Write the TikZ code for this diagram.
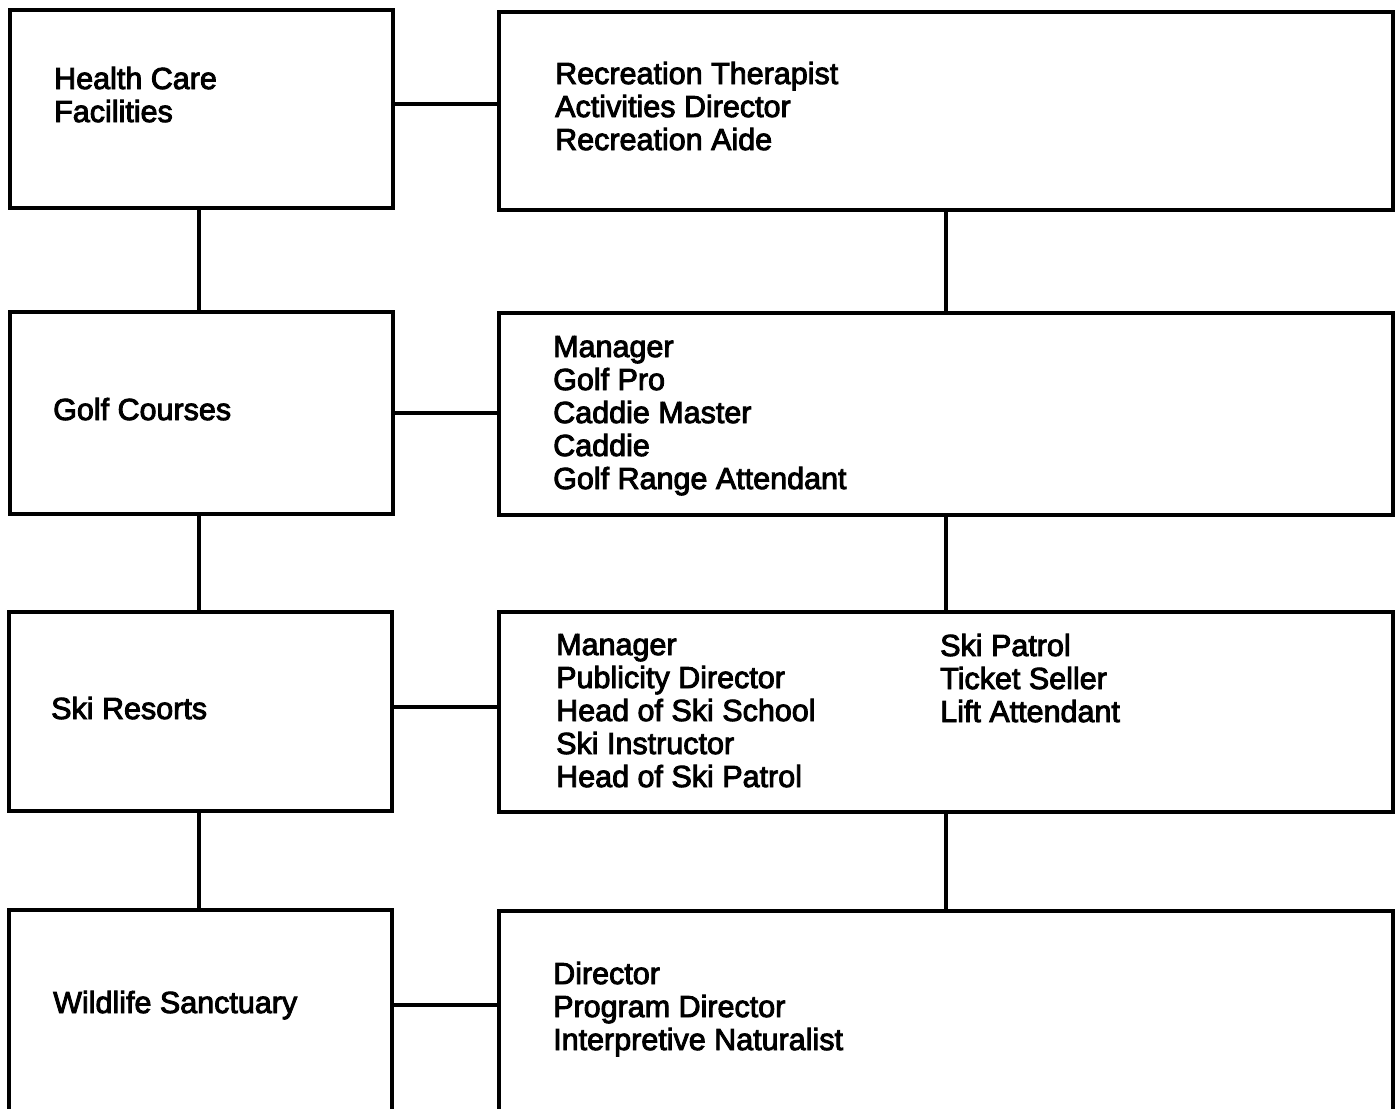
\documentclass[tikz,border=0pt]{standalone}
\usepackage{fontspec}
\newfontfamily\lab{Liberation Sans}[FakeBold=3]
\begin{document}
\begin{tikzpicture}[x=1pt,y=-1pt,
  box/.style={draw=black,line width=4pt,inner sep=0pt,minimum width=#1},
  lbox/.style={box=383pt},
  rbox/.style={box=894pt},
  conn/.style={draw=black,line width=4pt},
  txt/.style={inner sep=0pt,anchor=base west,align=left,
    font=\fontsize{30.5}{33}\lab}]
\clip (0,0) rectangle (1397,1108);
\fill[white] (0,0) rectangle (1397,1108);
% left boxes
\node[lbox,minimum height=198pt] (hc) at (201.5,109) {};
\node[lbox,minimum height=202pt] (gc) at (201.5,413) {};
\node[lbox,minimum height=199pt] (sr) at (200.5,711.5) {};
\node[lbox,minimum height=400pt] (ws) at (200,1110) {};
% right boxes
\node[rbox,minimum height=198pt] (hcj) at (946,111) {};
\node[rbox,minimum height=202pt] (gcj) at (946,414) {};
\node[rbox,minimum height=200pt] (srj) at (946,712) {};
\node[rbox,minimum height=389pt] (wsj) at (946,1105.5) {};
% horizontal connectors
\draw[conn] (hc.east |- 0,104) -- (hcj.west |- 0,104);
\draw[conn] (gc.east |- 0,413) -- (gcj.west |- 0,413);
\draw[conn] (sr.east |- 0,707) -- (srj.west |- 0,707);
\draw[conn] (ws.east |- 0,1005) -- (wsj.west |- 0,1005);
% vertical connectors
\draw[conn] (hc.south -| 199,0) -- (gc.north -| 199,0);
\draw[conn] (gc.south -| 199,0) -- (sr.north -| 199,0);
\draw[conn] (sr.south -| 199,0) -- (ws.north -| 199,0);
\draw[conn] (hcj.south) -- (gcj.north);
\draw[conn] (gcj.south) -- (srj.north);
\draw[conn] (srj.south) -- (wsj.north);
% texts (anchor = baseline of the last line)
\node[txt] (t1) at (54,122) {Health Care\\Facilities};
\node[txt] (t2) at (53,420) {Golf Courses};
\node[txt] (t3) at (51,719) {Ski Resorts};
\node[txt] (t4) at (53,1013) {Wildlife Sanctuary};
\node[txt] (j1) at (555,150) {Recreation Therapist\\Activities Director\\Recreation Aide};
\node[txt] (j2) at (553,489) {Manager\\Golf Pro\\Caddie Master\\Caddie\\Golf Range Attendant};
\node[txt] (j3) at (556,787) {Manager\\Publicity Director\\Head of Ski School\\Ski Instructor\\Head of Ski Patrol};
\node[txt] (j3b) at (940,722) {Ski Patrol\\Ticket Seller\\Lift Attendant};
\node[txt] (j4) at (553,1050) {Director\\Program Director\\Interpretive Naturalist};
\end{tikzpicture}
\end{document}
